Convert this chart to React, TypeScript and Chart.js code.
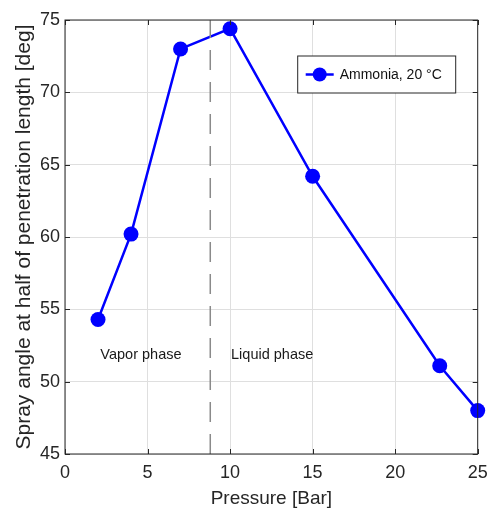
import React, { useEffect, useRef } from "react";
import { Chart, registerables } from "chart.js";

Chart.register(...registerables);

// ---- data ----
const pressure = [2, 4, 7, 10, 15, 22.7, 25];
const sprayAngle = [54.3, 60.2, 73.0, 74.4, 64.2, 51.1, 48.0];
const seriesLabel = "Ammonia, 20 °C";
const xTickValues = [0, 5, 10, 15, 20, 25];
const yTickValues = [45, 50, 55, 60, 65, 70, 75];
const phaseBoundary = [8.8];
const phaseNames = ["Vapor phase", "Liquid phase"];
const phaseX = [4.6, 12.55];
const phaseY = [51.85, 51.85];

const FONT = "'Liberation Sans', Arial, sans-serif";
const TEXT = "#262626";

const overlayPlugin = {
  id: "overlay",
  afterDraw(chart: any) {
    const { ctx, chartArea: a } = chart;
    const xs = chart.scales.x;
    const ys = chart.scales.y;
    ctx.save();

    // dashed phase boundary
    ctx.strokeStyle = "#8a8a8a";
    ctx.lineWidth = 1.5;
    ctx.setLineDash([20, 12]);
    phaseBoundary.forEach((v) => {
      const px = xs.getPixelForValue(v);
      ctx.beginPath();
      ctx.moveTo(px, a.bottom);
      ctx.lineTo(px, a.top);
      ctx.stroke();
    });
    ctx.setLineDash([]);

    // phase labels
    ctx.fillStyle = "#1a1a1a";
    ctx.font = `14.5px ${FONT}`;
    ctx.textAlign = "center";
    ctx.textBaseline = "middle";
    phaseNames.forEach((t, i) => {
      ctx.fillText(t, xs.getPixelForValue(phaseX[i]), ys.getPixelForValue(phaseY[i]));
    });

    // axes box
    ctx.strokeStyle = TEXT;
    ctx.lineWidth = 1;
    ctx.strokeRect(a.left, a.top, a.right - a.left, a.bottom - a.top);

    // inward ticks
    const tl = 5;
    ctx.beginPath();
    xTickValues.forEach((v) => {
      const px = Math.round(xs.getPixelForValue(v)) + 0.5;
      ctx.moveTo(px, a.bottom);
      ctx.lineTo(px, a.bottom - tl);
      ctx.moveTo(px, a.top);
      ctx.lineTo(px, a.top + tl);
    });
    yTickValues.forEach((v) => {
      const py = Math.round(ys.getPixelForValue(v)) + 0.5;
      ctx.moveTo(a.left, py);
      ctx.lineTo(a.left + tl, py);
      ctx.moveTo(a.right, py);
      ctx.lineTo(a.right - tl, py);
    });
    ctx.stroke();

    // legend box
    const lx = a.right - 180;
    const ly = a.top + 36;
    const lw = 158;
    const lh = 37;
    ctx.fillStyle = "#ffffff";
    ctx.fillRect(lx, ly, lw, lh);
    ctx.strokeStyle = TEXT;
    ctx.lineWidth = 1;
    ctx.strokeRect(lx, ly, lw, lh);
    const cy = ly + lh / 2;
    ctx.strokeStyle = "#0000ff";
    ctx.lineWidth = 2.5;
    ctx.beginPath();
    ctx.moveTo(lx + 8, cy);
    ctx.lineTo(lx + 36, cy);
    ctx.stroke();
    ctx.fillStyle = "#0000ff";
    ctx.beginPath();
    ctx.arc(lx + 22, cy, 7, 0, Math.PI * 2);
    ctx.fill();
    ctx.fillStyle = "#111111";
    ctx.font = `14px ${FONT}`;
    ctx.textAlign = "left";
    ctx.textBaseline = "middle";
    ctx.fillText(seriesLabel, lx + 42, cy + 1);

    ctx.restore();
  },
};

export default function App() {
  const ref = useRef<HTMLCanvasElement>(null);

  useEffect(() => {
    document.body.style.margin = "0";
    if (!ref.current) return;
    const chart = new Chart(ref.current, {
      type: "line",
      data: {
        datasets: [
          {
            label: seriesLabel,
            data: pressure.map((x, i) => ({ x, y: sprayAngle[i] })),
            borderColor: "#0000ff",
            backgroundColor: "#0000ff",
            borderWidth: 2.5,
            pointRadius: 7.5,
            pointBorderWidth: 0,
            pointBackgroundColor: "#0000ff",
            tension: 0,
            clip: false as any,
          },
        ],
      },
      options: {
        animation: false,
        responsive: true,
        maintainAspectRatio: false,
        layout: { padding: { top: 20, right: 9.3, bottom: 0, left: 0 } },
        plugins: {
          legend: { display: false },
          tooltip: { enabled: false },
        },
        scales: {
          x: {
            type: "linear",
            min: 0,
            max: 25,
            afterBuildTicks: (s: any) => {
              s.ticks = xTickValues.map((v) => ({ value: v }));
            },
            ticks: { font: { family: FONT, size: 18 }, color: TEXT, padding: 8, maxRotation: 0 },
            grid: { color: "#dfdfdf", drawTicks: false, lineWidth: 1 },
            border: { display: false },
            title: {
              display: true,
              text: "Pressure [Bar]",
              color: TEXT,
              font: { family: FONT, size: 19 },
              padding: { top: 0, bottom: 3 },
            },
            afterFit: (s: any) => {
              s.height = 59;
              s.paddingLeft = 0;
              s.paddingRight = 0;
            },
          },
          y: {
            type: "linear",
            min: 45,
            max: 75,
            afterBuildTicks: (s: any) => {
              s.ticks = yTickValues.map((v) => ({ value: v }));
            },
            ticks: { font: { family: FONT, size: 18 }, color: TEXT, padding: 5 },
            grid: { color: "#dfdfdf", drawTicks: false, lineWidth: 1 },
            border: { display: false },
            title: {
              display: true,
              text: "Spray angle at half of penetration length [deg]",
              color: TEXT,
              font: { family: FONT, size: 21 },
              padding: { top: 12, bottom: 0 },
            },
            afterFit: (s: any) => {
              s.width = 65;
              s.paddingTop = 0;
              s.paddingBottom = 0;
            },
          },
        },
      },
      plugins: [overlayPlugin],
    });
    return () => chart.destroy();
  }, []);

  return (
    <div style={{ position: "absolute", left: 0, top: 0, width: 487, height: 513 }}>
      <canvas ref={ref} />
    </div>
  );
}
